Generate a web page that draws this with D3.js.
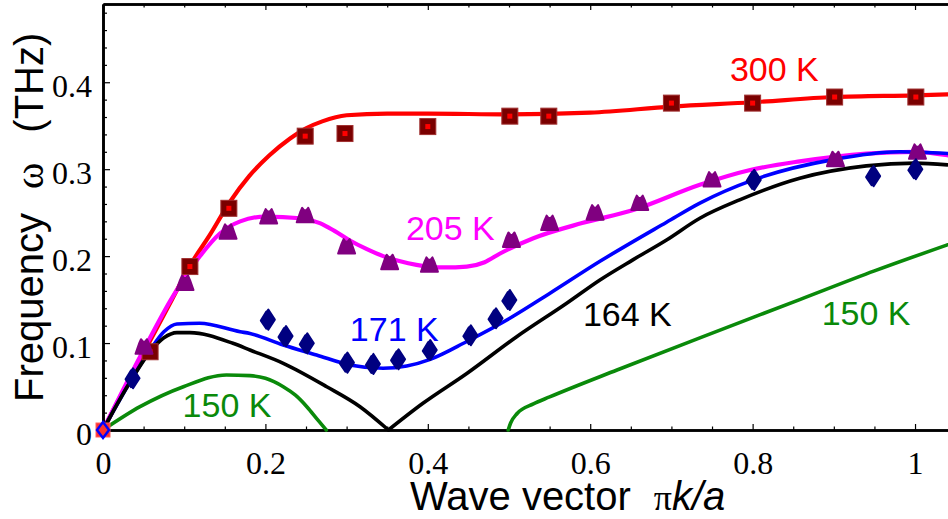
<!DOCTYPE html>
<html>
<head>
<meta charset="utf-8">
<script src="https://cdn.jsdelivr.net/npm/d3@7"></script>
<style>
  html, body { margin: 0; padding: 0; background: #fff; }
  svg { display: block; }
</style>
</head>
<body>
<div id="chart"></div>
<script>
// curves (x in units of pi/a, y in THz)
const red300X = [0, 0.03, 0.06, 0.085, 0.107, 0.132, 0.156, 0.18, 0.205, 0.23, 0.25, 0.27, 0.3, 0.35, 0.4, 0.5, 0.6, 0.7, 0.8, 0.9, 1.0, 1.04];
const red300Y = [0, 0.054, 0.106, 0.15, 0.189, 0.225, 0.262, 0.292, 0.316, 0.335, 0.347, 0.355, 0.362, 0.364, 0.364, 0.363, 0.365, 0.372, 0.377, 0.383, 0.385, 0.386];

const mag205X = [0, 0.05, 0.085, 0.119, 0.144, 0.169, 0.2, 0.243, 0.267, 0.285, 0.304, 0.325, 0.345, 0.366, 0.386, 0.42, 0.448, 0.47, 0.489, 0.53, 0.59, 0.653, 0.735, 0.797, 0.858, 0.94, 1.0, 1.04];
const mag205Y = [0, 0.092, 0.152, 0.1995, 0.226, 0.24, 0.2455, 0.2436, 0.238, 0.229, 0.218, 0.208, 0.2, 0.194, 0.19, 0.187, 0.188, 0.193, 0.203, 0.2206, 0.238, 0.253, 0.282, 0.299, 0.309, 0.318, 0.32, 0.316];

const blue171X = [0, 0.03, 0.058, 0.075, 0.091, 0.119, 0.169, 0.181, 0.222, 0.263, 0.304, 0.345, 0.374, 0.403, 0.448, 0.501, 0.55, 0.612, 0.694, 0.735, 0.801, 0.899, 0.981, 1.04];
const blue171Y = [0, 0.05, 0.092, 0.113, 0.122, 0.1228, 0.113, 0.111, 0.0978, 0.0863, 0.0748, 0.071, 0.0736, 0.0813, 0.1018, 0.1285, 0.157, 0.194, 0.239, 0.261, 0.2877, 0.311, 0.32, 0.318];

const black164LeftX = [0, 0.03, 0.058, 0.075, 0.091, 0.107, 0.16, 0.181, 0.222, 0.2755, 0.3165, 0.3515];
const black164LeftY = [0, 0.05, 0.09, 0.106, 0.112, 0.112, 0.0997, 0.092, 0.0767, 0.0498, 0.0268, 0];
const black164RightX = [0.3515, 0.394, 0.448, 0.509, 0.571, 0.612, 0.653, 0.694, 0.735, 0.784, 0.858, 0.94, 1.0, 1.04];
const black164RightY = [0, 0.0307, 0.065, 0.107, 0.1458, 0.1726, 0.196, 0.2186, 0.2436, 0.2647, 0.2896, 0.3038, 0.307, 0.305];

const green150LeftX = [0, 0.0456, 0.099, 0.152, 0.181, 0.2, 0.222, 0.237, 0.251, 0.265, 0.275];
const green150LeftY = [0, 0.0268, 0.0498, 0.0633, 0.0625, 0.0595, 0.0498, 0.04, 0.0268, 0.011, 0];
const green150RightX = [0.499, 0.502, 0.51, 0.53, 0.55, 0.633, 0.735, 0.858, 0.95, 1.04];
const green150RightY = [0, 0.008, 0.019, 0.03, 0.038, 0.069, 0.106, 0.15, 0.183, 0.213];

// measured points
const sq300X = [0.058, 0.107, 0.155, 0.249, 0.298, 0.4, 0.501, 0.549, 0.7, 0.8, 0.901, 1.001];
const sq300Y = [0.09, 0.188, 0.255, 0.338, 0.341, 0.349, 0.361, 0.361, 0.376, 0.376, 0.383, 0.383];
const tri205X = [0.0505, 0.101, 0.154, 0.204, 0.249, 0.3, 0.353, 0.402, 0.503, 0.55, 0.606, 0.661, 0.75, 0.902, 1.003];
const tri205Y = [0.0958, 0.169, 0.228, 0.2455, 0.247, 0.211, 0.193, 0.19, 0.2186, 0.238, 0.25, 0.261, 0.288, 0.3115, 0.32];
const dia171X = [0.037, 0.2036, 0.2254, 0.2516, 0.301, 0.333, 0.364, 0.403, 0.453, 0.484, 0.501, 0.802, 0.949, 1.001];
const dia171Y = [0.0595, 0.127, 0.108, 0.0997, 0.0775, 0.076, 0.0813, 0.092, 0.109, 0.1285, 0.1496, 0.2877, 0.292, 0.3];

const xMajor = [0, 0.2, 0.4, 0.6, 0.8, 1];
const yMajor = [0, 0.1, 0.2, 0.3, 0.4];

const labels = [
  { text: "300 K", x: 0.772, y: 0.402, color: "#ff0000" },
  { text: "205 K", x: 0.373, y: 0.219, color: "#ff00ff" },
  { text: "171 K", x: 0.304, y: 0.1018, color: "#0000ff" },
  { text: "164 K", x: 0.591, y: 0.1195, color: "#000000" },
  { text: "150 K", x: 0.098, y: 0.0154, color: "#0a8a0a" },
  { text: "150 K", x: 0.885, y: 0.1208, color: "#0a8a0a" }
];

const W = 948, H = 519;
const sans = "'Liberation Sans', Arial, Helvetica, sans-serif";
const serif = "'Liberation Serif', 'Times New Roman', Times, serif";

const svg = d3.select("#chart").append("svg").attr("width", W).attr("height", H);

const x = d3.scaleLinear().domain([0, 1.0406]).range([103, 948]);
const y = d3.scaleLinear().domain([0, 0.49]).range([430, 4]);

const zip = (xs, ys) => xs.map((v, i) => [v, ys[i]]);
const line = d3.line().x(d => x(d[0])).y(d => y(d[1])).curve(d3.curveMonotoneX);

// minor ticks
const xMinor = d3.range(0, 1.041, 0.05).filter(v => !xMajor.some(m => Math.abs(m - v) < 1e-6));
const yMinor = d3.range(0, 0.481, 0.02).filter(v => !yMajor.some(m => Math.abs(m - v) < 1e-6));

function styleAxis(g) {
  g.select(".domain").attr("stroke", "#000").attr("stroke-width", 2.6);
  g.selectAll(".tick line").attr("stroke", "#000").attr("stroke-width", 1.2);
}

// bottom
svg.append("g").attr("transform", "translate(0,430)")
  .call(d3.axisBottom(x).tickValues(xMinor).tickSize(-3.5).tickSizeOuter(0).tickFormat(""))
  .call(styleAxis);
const gx = svg.append("g").attr("transform", "translate(0,430)")
  .call(d3.axisBottom(x).tickValues(xMajor).tickSize(-6).tickSizeOuter(0).tickFormat(d => String(+d.toFixed(1))))
  .call(styleAxis);
gx.selectAll(".tick text").attr("y", 44).attr("dy", 0)
  .attr("font-family", serif).attr("font-size", 32).attr("fill", "#000");

// top
svg.append("g").attr("transform", "translate(0,4)")
  .call(d3.axisTop(x).tickValues(xMinor).tickSize(-3.5).tickSizeOuter(0).tickFormat(""))
  .call(styleAxis);
svg.append("g").attr("transform", "translate(0,4)")
  .call(d3.axisTop(x).tickValues(xMajor).tickSize(-6).tickSizeOuter(0).tickFormat(""))
  .call(styleAxis);

// left
svg.append("g").attr("transform", "translate(103,0)")
  .call(d3.axisLeft(y).tickValues(yMinor).tickSize(-4).tickSizeOuter(0).tickFormat(""))
  .call(styleAxis);
const gy = svg.append("g").attr("transform", "translate(103,0)")
  .call(d3.axisLeft(y).tickValues(yMajor).tickSize(-7).tickSizeOuter(0).tickFormat(d => String(+d.toFixed(1))))
  .call(styleAxis);
gy.selectAll(".tick text").attr("x", -11).attr("dy", "0.45em")
  .attr("font-family", serif).attr("font-size", 32).attr("fill", "#000");

// curves
const curves = [
  { xs: red300X, ys: red300Y, color: "#ff0000", w: 4.2 },
  { xs: mag205X, ys: mag205Y, color: "#ff00ff", w: 4.2 },
  { xs: blue171X, ys: blue171Y, color: "#0000ff", w: 3.6 },
  { xs: black164LeftX, ys: black164LeftY, color: "#000000", w: 3.6 },
  { xs: black164RightX, ys: black164RightY, color: "#000000", w: 3.6 },
  { xs: green150LeftX, ys: green150LeftY, color: "#0a8a0a", w: 3.6 },
  { xs: green150RightX, ys: green150RightY, color: "#0a8a0a", w: 3.6 }
];
svg.append("g").selectAll("path").data(curves).enter().append("path")
  .attr("d", c => line(zip(c.xs, c.ys)))
  .attr("fill", "none").attr("stroke", c => c.color).attr("stroke-width", c => c.w)
  .attr("stroke-linejoin", "round").attr("stroke-linecap", "round");

// origin markers
svg.append("rect").attr("x", x(0) - 7).attr("y", y(0) - 7).attr("width", 14).attr("height", 14)
  .attr("fill", "#ff3030").attr("stroke", "#ff6060").attr("stroke-width", 1);
svg.append("path").attr("transform", `translate(${x(0)},${y(0)})`)
  .attr("d", "M0,-8L6,0L0,8L-6,0Z").attr("fill", "none").attr("stroke", "#0000ff").attr("stroke-width", 2.4);

// squares (300 K)
const sq = svg.append("g").selectAll("g").data(zip(sq300X, sq300Y)).enter().append("g")
  .attr("transform", d => `translate(${x(d[0])},${y(d[1])})`);
sq.append("rect").attr("x", -8).attr("y", -8).attr("width", 16).attr("height", 16)
  .attr("fill", "#7a0000").attr("stroke", "#a03030").attr("stroke-width", 1);
sq.append("rect").attr("x", -2.5).attr("y", -2.5).attr("width", 5).attr("height", 5).attr("fill", "#ff0000");

// triangles (205 K)
svg.append("g").selectAll("path").data(zip(tri205X, tri205Y)).enter().append("path")
  .attr("transform", d => `translate(${x(d[0])},${y(d[1])})`)
  .attr("d", "M-8.5,7L8.5,7L5,-3L3,-7.5L1,-5L-1,-5L-3,-7.5L-5,-3Z")
  .attr("fill", "#800080").attr("stroke", "#800080").attr("stroke-width", 2).attr("stroke-linejoin", "round");

// diamonds (171 K)
svg.append("g").selectAll("path").data(zip(dia171X, dia171Y)).enter().append("path")
  .attr("transform", d => `translate(${x(d[0])},${y(d[1])})`)
  .attr("d", "M0,-10L6.5,0L0,10L-6.5,0Z M-2,-8L4,1L-2,9L-7.5,1Z")
  .attr("fill", "#000080").attr("stroke", "#000080").attr("stroke-width", 2).attr("stroke-linejoin", "round");

// curve labels
svg.append("g").selectAll("text").data(labels).enter().append("text")
  .attr("x", d => x(d.x)).attr("y", d => y(d.y))
  .attr("font-family", sans).attr("font-size", 34).attr("fill", d => d.color)
  .text(d => d.text);

// axis titles
const xt = svg.append("text").attr("x", 410).attr("y", 510)
  .attr("font-family", sans).attr("font-size", 40).attr("fill", "#000");
xt.append("tspan").text("Wave vector");
xt.append("tspan").attr("dx", 23).attr("font-family", serif).attr("font-size", 36).text("\u03c0");
xt.append("tspan").attr("font-style", "italic").text("k/a");

const yt = svg.append("text").attr("transform", "translate(43,402) rotate(-90)")
  .attr("font-family", sans).attr("font-size", 40).attr("fill", "#000");
yt.append("tspan").text("Frequency");
yt.append("tspan").attr("dx", 24).attr("font-family", serif).attr("font-size", 40).text("\u03c9");
yt.append("tspan").attr("dx", 30).text("(THz)");
</script>
</body>
</html>
